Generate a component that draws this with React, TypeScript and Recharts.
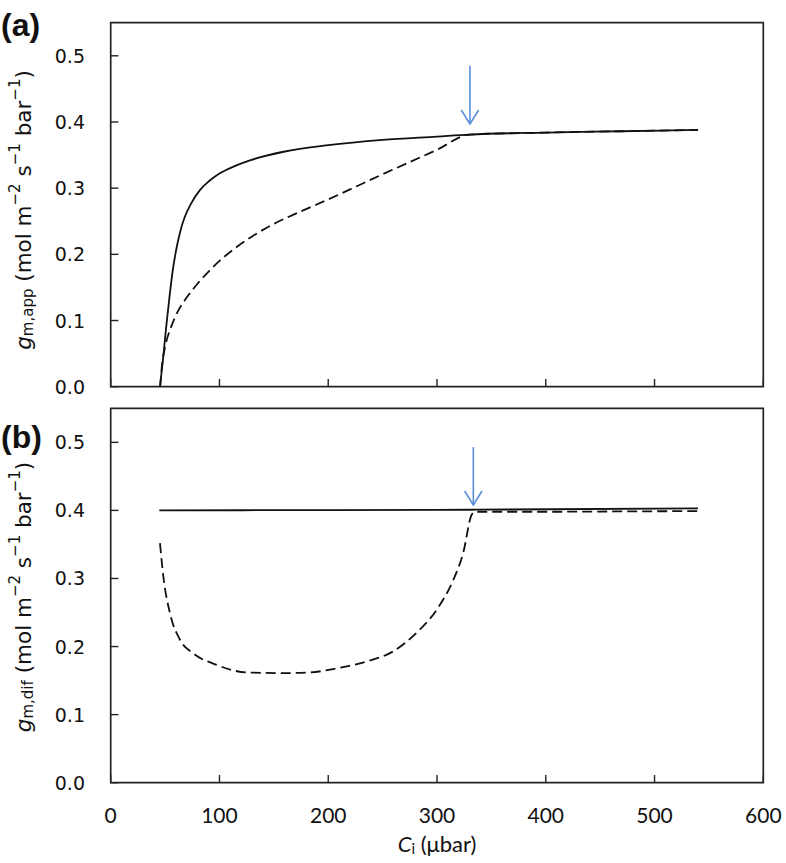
import React from "react";
import { LineChart, Line, XAxis, YAxis, ReferenceLine, ReferenceArea } from "recharts";

// Panel (a): g_m,app vs Ci
const ciA_solid = [45.3, 48, 51, 54, 57, 60, 64, 68, 74, 82, 90, 100, 115, 128, 159, 200, 250, 300, 330, 400, 470, 540];
const gmA_solid = [0, 0.04, 0.09, 0.135, 0.175, 0.205, 0.235, 0.256, 0.277, 0.297, 0.31, 0.322, 0.334, 0.342, 0.355, 0.365, 0.373, 0.378, 0.381, 0.384, 0.386, 0.388];
const ciA_dash = [45.5, 47, 50, 55, 60, 70, 80, 90, 100, 115, 130, 150, 175, 200, 250, 300, 330, 400, 470, 540];
const gmA_dash = [0, 0.03, 0.06, 0.088, 0.108, 0.135, 0.156, 0.174, 0.19, 0.21, 0.227, 0.246, 0.265, 0.283, 0.321, 0.358, 0.381, 0.384, 0.386, 0.388];

// Panel (b): g_m,dif vs Ci
const ciB_solid = [44.7, 200, 330, 540];
const gmB_solid = [0.4, 0.4005, 0.401, 0.403];
const ciB_dash = [45.3, 48.4, 54.5, 63.7, 76, 97.5, 125, 158.7, 183, 207.8, 235, 259.8, 281, 299.7, 315, 324, 332, 335, 400, 470, 540];
const gmB_dash = [0.352, 0.303, 0.249, 0.21, 0.19, 0.173, 0.162, 0.161, 0.162, 0.168, 0.178, 0.193, 0.22, 0.254, 0.298, 0.337, 0.394, 0.398, 0.398, 0.3985, 0.399];

// arrows (Ci, top value, tip value)
const arrowA = { ci: 330.3, top: 0.485, tip: 0.397 };
const arrowB = { ci: 333.4, top: 0.493, tip: 0.408 };

const xTicks = [0, 100, 200, 300, 400, 500, 600];
const yTicks = [0, 0.1, 0.2, 0.3, 0.4, 0.5];
const xDomain = [0, 600];
const yDomain = [0, 0.55];

const zip = (xs: number[], ys: number[]) => xs.map((x, i) => ({ ci: x, gm: ys[i] }));

const AXIS = "#222";
const ARROW = "#5a8fd8";

const YTick = (props: any) => {
  const { x, y, payload } = props;
  return (
    <g>
      <line x1={x} x2={x + 7.7} y1={y} y2={y} stroke={AXIS} strokeWidth={1.4} />
      <text x={x - 25.7} y={y} textAnchor="end" dominantBaseline="central" fontFamily="DejaVu Sans" fontSize={19} fill="#111">
        {Number(payload.value).toFixed(1)}
      </text>
    </g>
  );
};

const makeXTick = (showLabel: boolean) => (props: any) => {
  const { x, y, payload } = props;
  return (
    <g>
      <line x1={x} x2={x} y1={y} y2={y - 7.7} stroke={AXIS} strokeWidth={1.4} />
      {showLabel && (
        <text x={x} y={y + 32} textAnchor="middle" dominantBaseline="central" fontFamily="Lato" fontSize={21} fill="#111">
          {payload.value}
        </text>
      )}
    </g>
  );
};

const ArrowShape = (props: any) => {
  const { x1, y1, x2, y2 } = props;
  return (
    <g>
      <line x1={x1} y1={y1} x2={x2} y2={y2} stroke={ARROW} strokeWidth={1.6} />
      <polyline points={`${x2 - 8.7},${y2 - 14} ${x2},${y2} ${x2 + 8.7},${y2 - 14}`} fill="none" stroke={ARROW} strokeWidth={1.6} />
    </g>
  );
};

const YTitle = ({ cx, cy, sub, panel, panelY }: any) => (
  <g>
    <text
      transform={`translate(${cx},${cy}) rotate(-90)`}
      textAnchor="middle"
      dominantBaseline="central"
      fontFamily="DejaVu Sans"
      fontSize={21.5}
      fill="#111"
    >
      <tspan fontStyle="italic">g</tspan>
      <tspan fontSize={15} dy={5}>{sub}</tspan>
      <tspan dy={-5}> (mol m</tspan>
      <tspan fontSize={15} dy={-8}>−2</tspan>
      <tspan dy={8}> s</tspan>
      <tspan fontSize={15} dy={-8}>−1</tspan>
      <tspan dy={8}> bar</tspan>
      <tspan fontSize={15} dy={-8}>−1</tspan>
      <tspan dy={8}>)</tspan>
    </text>
    <text x={1} y={panelY} dominantBaseline="central" fontFamily="Liberation Sans" fontWeight="bold" fontSize={32} fill="#111">
      {panel}
    </text>
  </g>
);

const XTitle = () => (
  <text x={437} y={443} textAnchor="middle" dominantBaseline="central" fontFamily="Lato" fontSize={22} fill="#111">
    <tspan fontStyle="italic">C</tspan>
    <tspan fontSize={15} dy={5}>i</tspan>
    <tspan dy={-5}> (μbar)</tspan>
  </text>
);

const lineCommon = { type: "monotone" as const, dataKey: "gm", dot: false, isAnimationActive: false, stroke: "#111", strokeWidth: 1.8 };

export default function App() {
  return (
    <div style={{ position: "absolute", left: 0, top: 0, width: 786, height: 863, background: "#fff" }}>
      <div style={{ position: "absolute", left: 0, top: 0 }}>
        <LineChart width={786} height={400} margin={{ top: 22.7, right: 22.7, bottom: 3.3, left: 50.7 }}>
          <XAxis dataKey="ci" type="number" domain={xDomain} ticks={xTicks} axisLine={false} tickLine={false} tickSize={0} tickMargin={0} height={10} tick={makeXTick(false)} allowDataOverflow />
          <YAxis type="number" domain={yDomain} ticks={yTicks} axisLine={false} tickLine={false} tickSize={0} tickMargin={0} width={60} tick={YTick} allowDataOverflow
            label={{ content: () => <YTitle cx={23} cy={210} sub="m,app" panel="(a)" panelY={25} /> }} />
          <ReferenceArea x1={0} x2={600} y1={0} y2={0.55} fill="none" fillOpacity={0} stroke={AXIS} strokeWidth={1.7} />
          <Line {...lineCommon} data={zip(ciA_dash, gmA_dash)} strokeDasharray="10 5" />
          <Line {...lineCommon} data={zip(ciA_solid, gmA_solid)} />
          <ReferenceLine segment={[{ x: arrowA.ci, y: arrowA.top }, { x: arrowA.ci, y: arrowA.tip }]} shape={ArrowShape} />
        </LineChart>
      </div>
      <div style={{ position: "absolute", left: 0, top: 400 }}>
        <LineChart width={786} height={463} margin={{ top: 8.3, right: 22.7, bottom: 20.3, left: 50.7 }}>
          <XAxis dataKey="ci" type="number" domain={xDomain} ticks={xTicks} axisLine={false} tickLine={false} tickSize={0} tickMargin={0} height={60} tick={makeXTick(true)} allowDataOverflow
            label={{ content: () => <XTitle /> }} />
          <YAxis type="number" domain={yDomain} ticks={yTicks} axisLine={false} tickLine={false} tickSize={0} tickMargin={0} width={60} tick={YTick} allowDataOverflow
            label={{ content: () => <YTitle cx={23} cy={197} sub="m,dif" panel="(b)" panelY={36.7} /> }} />
          <ReferenceArea x1={0} x2={600} y1={0} y2={0.55} fill="none" fillOpacity={0} stroke={AXIS} strokeWidth={1.7} />
          <Line {...lineCommon} data={zip(ciB_dash, gmB_dash)} strokeDasharray="10 5" />
          <Line {...lineCommon} data={zip(ciB_solid, gmB_solid)} />
          <ReferenceLine segment={[{ x: arrowB.ci, y: arrowB.top }, { x: arrowB.ci, y: arrowB.tip }]} shape={ArrowShape} />
        </LineChart>
      </div>
    </div>
  );
}
